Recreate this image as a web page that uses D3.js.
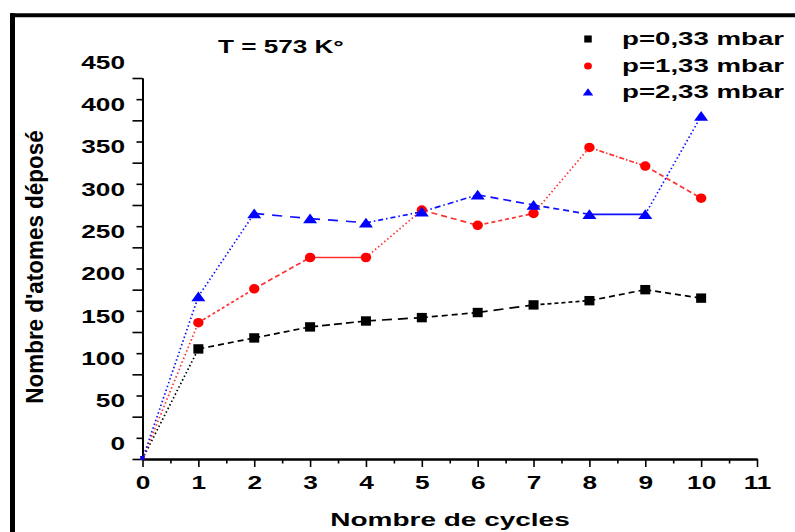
<!DOCTYPE html>
<html>
<head>
<meta charset="utf-8">
<script src="https://cdn.jsdelivr.net/npm/d3@7"></script>
<style>
  html, body { margin: 0; padding: 0; background: #ffffff; }
  svg { display: block; }
  text { font-family: "Liberation Sans", Arial, sans-serif; font-weight: bold; fill: #000; }
</style>
</head>
<body>
<svg id="chart" width="795" height="532"></svg>
<script>
// Deposited atoms vs. number of cycles at T = 573 K, three pressures
const cycles = [0, 1, 2, 3, 4, 5, 6, 7, 8, 9, 10];
const p033 = [0, 130, 143, 156, 163, 167, 173, 182, 187, 200, 190];
const p133 = [0, 161, 201, 238, 238, 294, 276, 290, 368, 346, 308];
const p233 = [0, 192, 290, 284, 279, 292, 312, 300, 289, 289, 405];
const seriesNames = ["p=0,33 mbar", "p=1,33 mbar", "p=2,33 mbar"];
const yTickValues = [0, 50, 100, 150, 200, 250, 300, 350, 400, 450];
const xTickValues = [0, 1, 2, 3, 4, 5, 6, 7, 8, 9, 10, 11];
const titleText = "T = 573 K°";
const xTitle = "Nombre de cycles";
const yTitle = "Nombre d'atomes déposé";

const svg = d3.select("#chart");
const x = d3.scaleLinear().domain([0, 11]).range([142.5, 757]);
const y = d3.scaleLinear().domain([0, 450]).range([459, 78]);

// text in this figure is rendered wide
const SX = 1.5;

// frame (top and left edges)
svg.append("line").attr("x1", 10).attr("x2", 795).attr("y1", 15.3).attr("y2", 15.3)
  .attr("stroke", "#000").attr("stroke-width", 4);
svg.append("line").attr("x1", 12.5).attr("x2", 12.5).attr("y1", 13.3).attr("y2", 532)
  .attr("stroke", "#000").attr("stroke-width", 5);

function styleAxis(g) {
  g.selectAll("path.domain").attr("stroke", "#000").attr("stroke-width", 2);
  g.selectAll(".tick line").attr("stroke", "#000").attr("stroke-width", 1.6);
}

// y axis: minor ticks every 25, major every 50
const minorY = d3.range(25, 450, 50);
const gyMinor = svg.append("g").attr("transform", `translate(${x(0)},0)`)
  .call(d3.axisLeft(y).tickValues(minorY).tickSize(6).tickSizeOuter(0).tickFormat(""));
styleAxis(gyMinor);
const gy = svg.append("g").attr("transform", `translate(${x(0)},0)`)
  .call(d3.axisLeft(y).tickValues(yTickValues).tickSize(10).tickSizeOuter(0));
styleAxis(gy);
gy.selectAll(".tick text")
  .attr("x", null).attr("dy", null)
  .attr("text-anchor", "end")
  .attr("font-size", 17.5)
  .attr("fill", "#000")
  .attr("transform", `translate(-17.5,-10) scale(${SX},1)`);

// x axis: minor ticks every 0.5, major every 1
const minorX = d3.range(0.5, 11, 1);
const gxMinor = svg.append("g").attr("transform", `translate(0,${y(0)})`)
  .call(d3.axisBottom(x).tickValues(minorX).tickSize(4.5).tickSizeOuter(0).tickFormat(""));
styleAxis(gxMinor);
const gx = svg.append("g").attr("transform", `translate(0,${y(0)})`)
  .call(d3.axisBottom(x).tickValues(xTickValues).tickSize(8).tickSizeOuter(0));
styleAxis(gx);
gx.selectAll(".tick text")
  .attr("y", null).attr("dy", null)
  .attr("text-anchor", "middle")
  .attr("font-size", 17.5)
  .attr("fill", "#000")
  .attr("transform", `translate(0,30) scale(${SX},1)`);

// titles
svg.append("text").attr("transform", `translate(218,53) scale(1.45,1)`)
  .attr("font-size", 18).text(titleText);
svg.append("text").attr("transform", `translate(450,526) scale(1.6,1)`)
  .attr("text-anchor", "middle").attr("font-size", 17.5).text(xTitle);
svg.append("text").attr("transform", `translate(43,267) rotate(-90) scale(1.36,1.5)`)
  .attr("text-anchor", "middle").attr("font-size", 16.5).text(yTitle);

// per-segment dash patterns for each series
const dashes = [
  ["1.5,2.5", "6,4", "6,4", "8,4", "10,6", "6,4", "10,6", "4,3", "6,4", "6,4"],
  ["1.5,2.5", "3,2.5", "5,3", null, "1.5,2.5", "6,4", "4,3", "1.5,2.5", "5,2,1.5,2", "5,3"],
  ["1.5,2.5", "1.5,2.5", "10,8", "10,8", "5,3,1.5,3", "6,3,1.5,3", "8,5", "6,4", null, "1.5,2.5"]
];
const colors = ["#000000", "#ff0000", "#0000ff"];
const lineColors = ["#000000", "#ff3030", "#1010ff"];
const allSeries = [p033, p133, p233];

const line = d3.line().x(d => x(d[0])).y(d => y(d[1]));

allSeries.forEach((vals, si) => {
  const g = svg.append("g");
  for (let i = 0; i < vals.length - 1; i++) {
    g.append("path")
      .attr("d", line([[cycles[i], vals[i]], [cycles[i + 1], vals[i + 1]]]))
      .attr("fill", "none")
      .attr("stroke", lineColors[si])
      .attr("stroke-width", 1.7)
      .attr("stroke-dasharray", dashes[si][i]);
  }
});

function marker(g, kind, cx, cy, s) {
  if (kind === 0) {
    g.append("rect").attr("x", cx - 5 * s).attr("y", cy - 4.7 * s)
      .attr("width", 10 * s).attr("height", 9.4 * s).attr("fill", colors[0]);
  } else if (kind === 1) {
    g.append("ellipse").attr("cx", cx).attr("cy", cy).attr("rx", 5.2 * s).attr("ry", 4.8 * s)
      .attr("fill", colors[1]);
  } else {
    g.append("path")
      .attr("d", `M${cx},${cy - 5 * s}L${cx + 7 * s},${cy + 4.7 * s}L${cx - 7 * s},${cy + 4.7 * s}Z`)
      .attr("fill", colors[2]);
  }
}

allSeries.forEach((vals, si) => {
  const g = svg.append("g");
  vals.forEach((v, i) => {
    if (i === 0) {
      g.append("rect").attr("x", x(0) - 2).attr("y", y(0) - 3).attr("width", 4).attr("height", 4)
        .attr("fill", colors[si]);
      return;
    }
    marker(g, si, x(cycles[i]), y(v), 1);
  });
});

// legend
const legendRows = [39, 66, 92];
seriesNames.forEach((name, i) => {
  const g = svg.append("g");
  marker(g, i, 588, legendRows[i], 0.75);
  g.append("text").attr("transform", `translate(622,${legendRows[i] + 6}) scale(1.58,1)`)
    .attr("font-size", 17.5).text(name);
});
</script>
</body>
</html>
